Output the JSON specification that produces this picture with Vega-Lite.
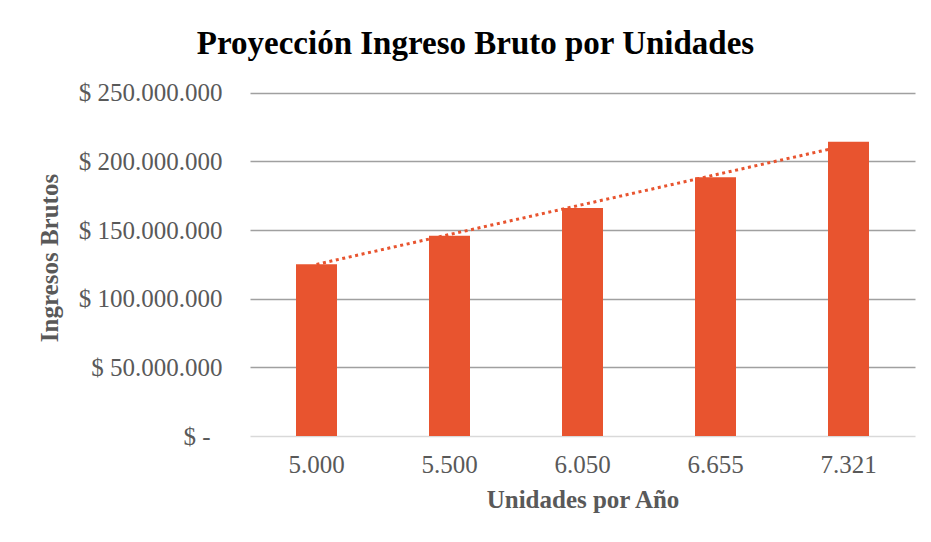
{
  "$schema": "https://vega.github.io/schema/vega-lite/v6.json",
  "width": 665,
  "height": 357,
  "autosize": {"type": "none"},
  "padding": {"left": 250, "top": 79, "right": 16, "bottom": 106},
  "background": "white",
  "config": {
    "font": "Liberation Serif",
    "view": {"stroke": null},
    "locale": {"number": {"decimal": ",", "thousands": ".", "grouping": [3], "currency": ["$ ", ""]}}
  },
  "title": {
    "text": "Proyección Ingreso Bruto por Unidades",
    "font": "Liberation Serif",
    "fontSize": 33,
    "fontWeight": "bold",
    "color": "#000000",
    "anchor": "middle",
    "dx": -107,
    "offset": 18
  },
  "data": {
    "values": [
      {"unidades": 5000, "ingreso": 125000000, "tendencia": 125000000},
      {"unidades": 5500, "ingreso": 145800000, "tendencia": 146750000},
      {"unidades": 6050, "ingreso": 166000000, "tendencia": 168500000},
      {"unidades": 6655, "ingreso": 188500000, "tendencia": 190250000},
      {"unidades": 7321, "ingreso": 214300000, "tendencia": 212000000}
    ]
  },
  "encoding": {
    "x": {
      "field": "unidades",
      "type": "ordinal",
      "scale": {"paddingInner": 0, "paddingOuter": 0},
      "axis": {
        "title": "Unidades por Año",
        "labelExpr": "format(datum.value, ',')",
        "labelAngle": 0,
        "labelFont": "Liberation Serif",
        "labelFontSize": 25,
        "labelColor": "#595959",
        "labelPadding": 16,
        "ticks": false,
        "domain": false,
        "grid": false,
        "titleFont": "Liberation Serif",
        "titleFontSize": 25,
        "titleFontWeight": "bold",
        "titleColor": "#595959",
        "titlePadding": 10
      }
    }
  },
  "layer": [
    {
      "mark": {"type": "line", "color": "#E8542F", "strokeWidth": 3, "strokeDash": [3, 3.6], "strokeCap": "butt"},
      "encoding": {
        "y": {"field": "tendencia", "type": "quantitative"}
      }
    },
    {
      "mark": {"type": "bar", "color": "#E8542F", "size": 41},
      "encoding": {
        "y": {
          "field": "ingreso",
          "type": "quantitative",
          "scale": {"domain": [0, 250000000]},
          "axis": {
            "title": "Ingresos Brutos",
            "values": [0, 50000000, 100000000, 150000000, 200000000, 250000000],
            "labelExpr": "datum.value == 0 ? '$ -' : format(datum.value, '$,.0f')",
            "labelFont": "Liberation Serif",
            "labelFontSize": 25,
            "labelColor": "#595959",
            "labelPadding": {"condition": {"test": "datum.value === 0", "value": 40}, "value": 28},
            "ticks": false,
            "domain": false,
            "grid": true,
            "gridColor": {"condition": {"test": "datum.value === 0", "value": "#d9d9d9"}, "value": "#a0a0a0"},
            "gridWidth": 1.6,
            "titleFont": "Liberation Serif",
            "titleFontSize": 25,
            "titleFontWeight": "bold",
            "titleColor": "#595959",
            "titlePadding": 16
          }
        }
      }
    }
  ]
}
